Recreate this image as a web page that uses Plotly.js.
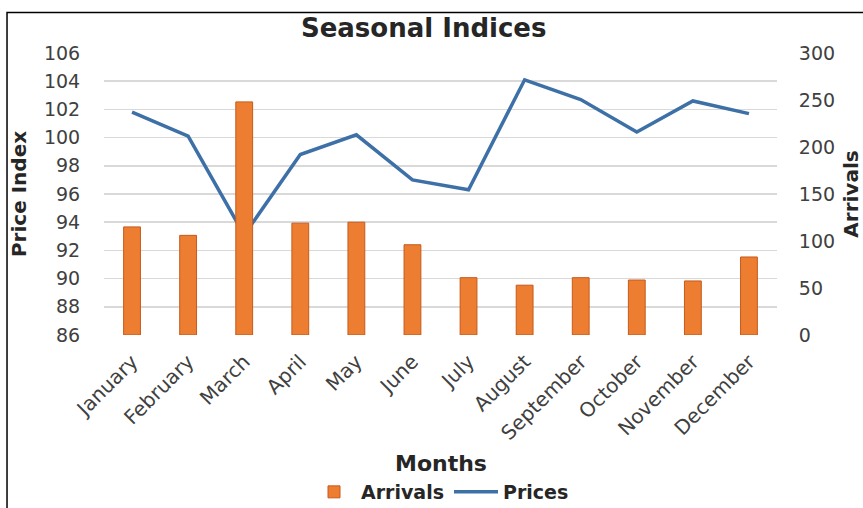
<!DOCTYPE html>
<html>
<head>
<meta charset="utf-8">
<script src="https://cdn.plot.ly/plotly-3.0.1.min.js"></script>
<style>
html,body{margin:0;padding:0;background:#fff;}
#chart{width:863px;height:508px;}
</style>
</head>
<body>
<div id="chart"></div>
<script>
const months = ["January","February","March","April","May","June","July","August","September","October","November","December"];
const arrivals = [115, 106, 248, 119, 120, 96, 61, 53, 61, 58.5, 57.5, 83];
const prices = [101.8, 100.1, 93.1, 98.8, 100.2, 97.0, 96.3, 104.1, 102.7, 100.4, 102.6, 101.7];
const priceTicks = [86, 88, 90, 92, 94, 96, 98, 100, 102, 104, 106];
const arrivalTicks = [0, 50, 100, 150, 200, 250, 300];

const FONT = "DejaVu Sans, Verdana, sans-serif";
const TXT = "#404040";
const DARK = "#262626";

const traces = [
  {
    type: "bar", name: "Arrivals", x: months, y: arrivals, yaxis: "y2",
    marker: {color: "#ED7D31", line: {color: "#C65A1C", width: 1}}
  },
  {
    type: "scatter", mode: "lines", name: "Prices", x: months, y: prices, yaxis: "y",
    line: {color: "#3E70A8", width: 3.5}
  }
];

const layout = {
  width: 863, height: 508,
  margin: {l: 104, r: 86, t: 53, b: 173},
  paper_bgcolor: "#fff", plot_bgcolor: "#fff",
  font: {family: FONT, color: TXT},
  bargap: 0.7,
  showlegend: true,
  title: {
    text: "Seasonal Indices", xref: "container", x: 0.491, xanchor: "center",
    yref: "container", y: 1 - 28/508, yanchor: "middle",
    font: {family: FONT, size: 26, weight: "bold", color: DARK}
  },
  xaxis: {
    type: "category", tickangle: -45, showgrid: false, zeroline: false, showline: false,
    automargin: false,
    ticks: "outside", ticklen: 6, tickcolor: "rgba(0,0,0,0)",
    tickfont: {family: FONT, size: 20, color: TXT}
  },
  yaxis: {
    range: [86, 106], tickvals: priceTicks, showline: false, zeroline: false,
    automargin: false,
    gridcolor: "#d9d9d9", gridwidth: 1.6,
    ticks: "outside", ticklen: 19, tickcolor: "rgba(0,0,0,0)",
    tickfont: {family: FONT, size: 19, color: TXT},
    title: {text: "Price Index", standoff: 11, font: {family: FONT, size: 20, weight: "bold", color: DARK}}
  },
  yaxis2: {
    range: [0, 300], tickvals: arrivalTicks, overlaying: "y", side: "right",
    showgrid: false, showline: false, zeroline: false,
    automargin: false,
    ticks: "outside", ticklen: 17, tickcolor: "rgba(0,0,0,0)",
    tickfont: {family: FONT, size: 19, color: TXT},
    title: {text: "Arrivals", standoff: 24, font: {family: FONT, size: 20, weight: "bold", color: DARK}}
  },
  annotations: [
    {text: "Months", xref: "paper", x: 0.5, xanchor: "center", yref: "paper", y: (335 - 463) / 282, yanchor: "middle",
     showarrow: false, font: {family: FONT, size: 22, weight: "bold", color: DARK}}
  ],
  legend: {
    orientation: "h", xref: "paper", x: 0.5, xanchor: "center",
    yref: "container", y: 1 - 473/508, yanchor: "top",
    font: {family: FONT, size: 19, weight: "bold", color: DARK},
    itemwidth: 44, bgcolor: "rgba(0,0,0,0)"
  },
  shapes: [
    {type: "rect", xref: "paper", yref: "paper", x0: -0.1441, x1: 2, y0: -1, y1: 1.1436,
     line: {color: "#000", width: 1.5}, layer: "above"}
  ]
};

Plotly.newPlot("chart", traces, layout, {displayModeBar: false, staticPlot: true});
</script>
</body>
</html>
